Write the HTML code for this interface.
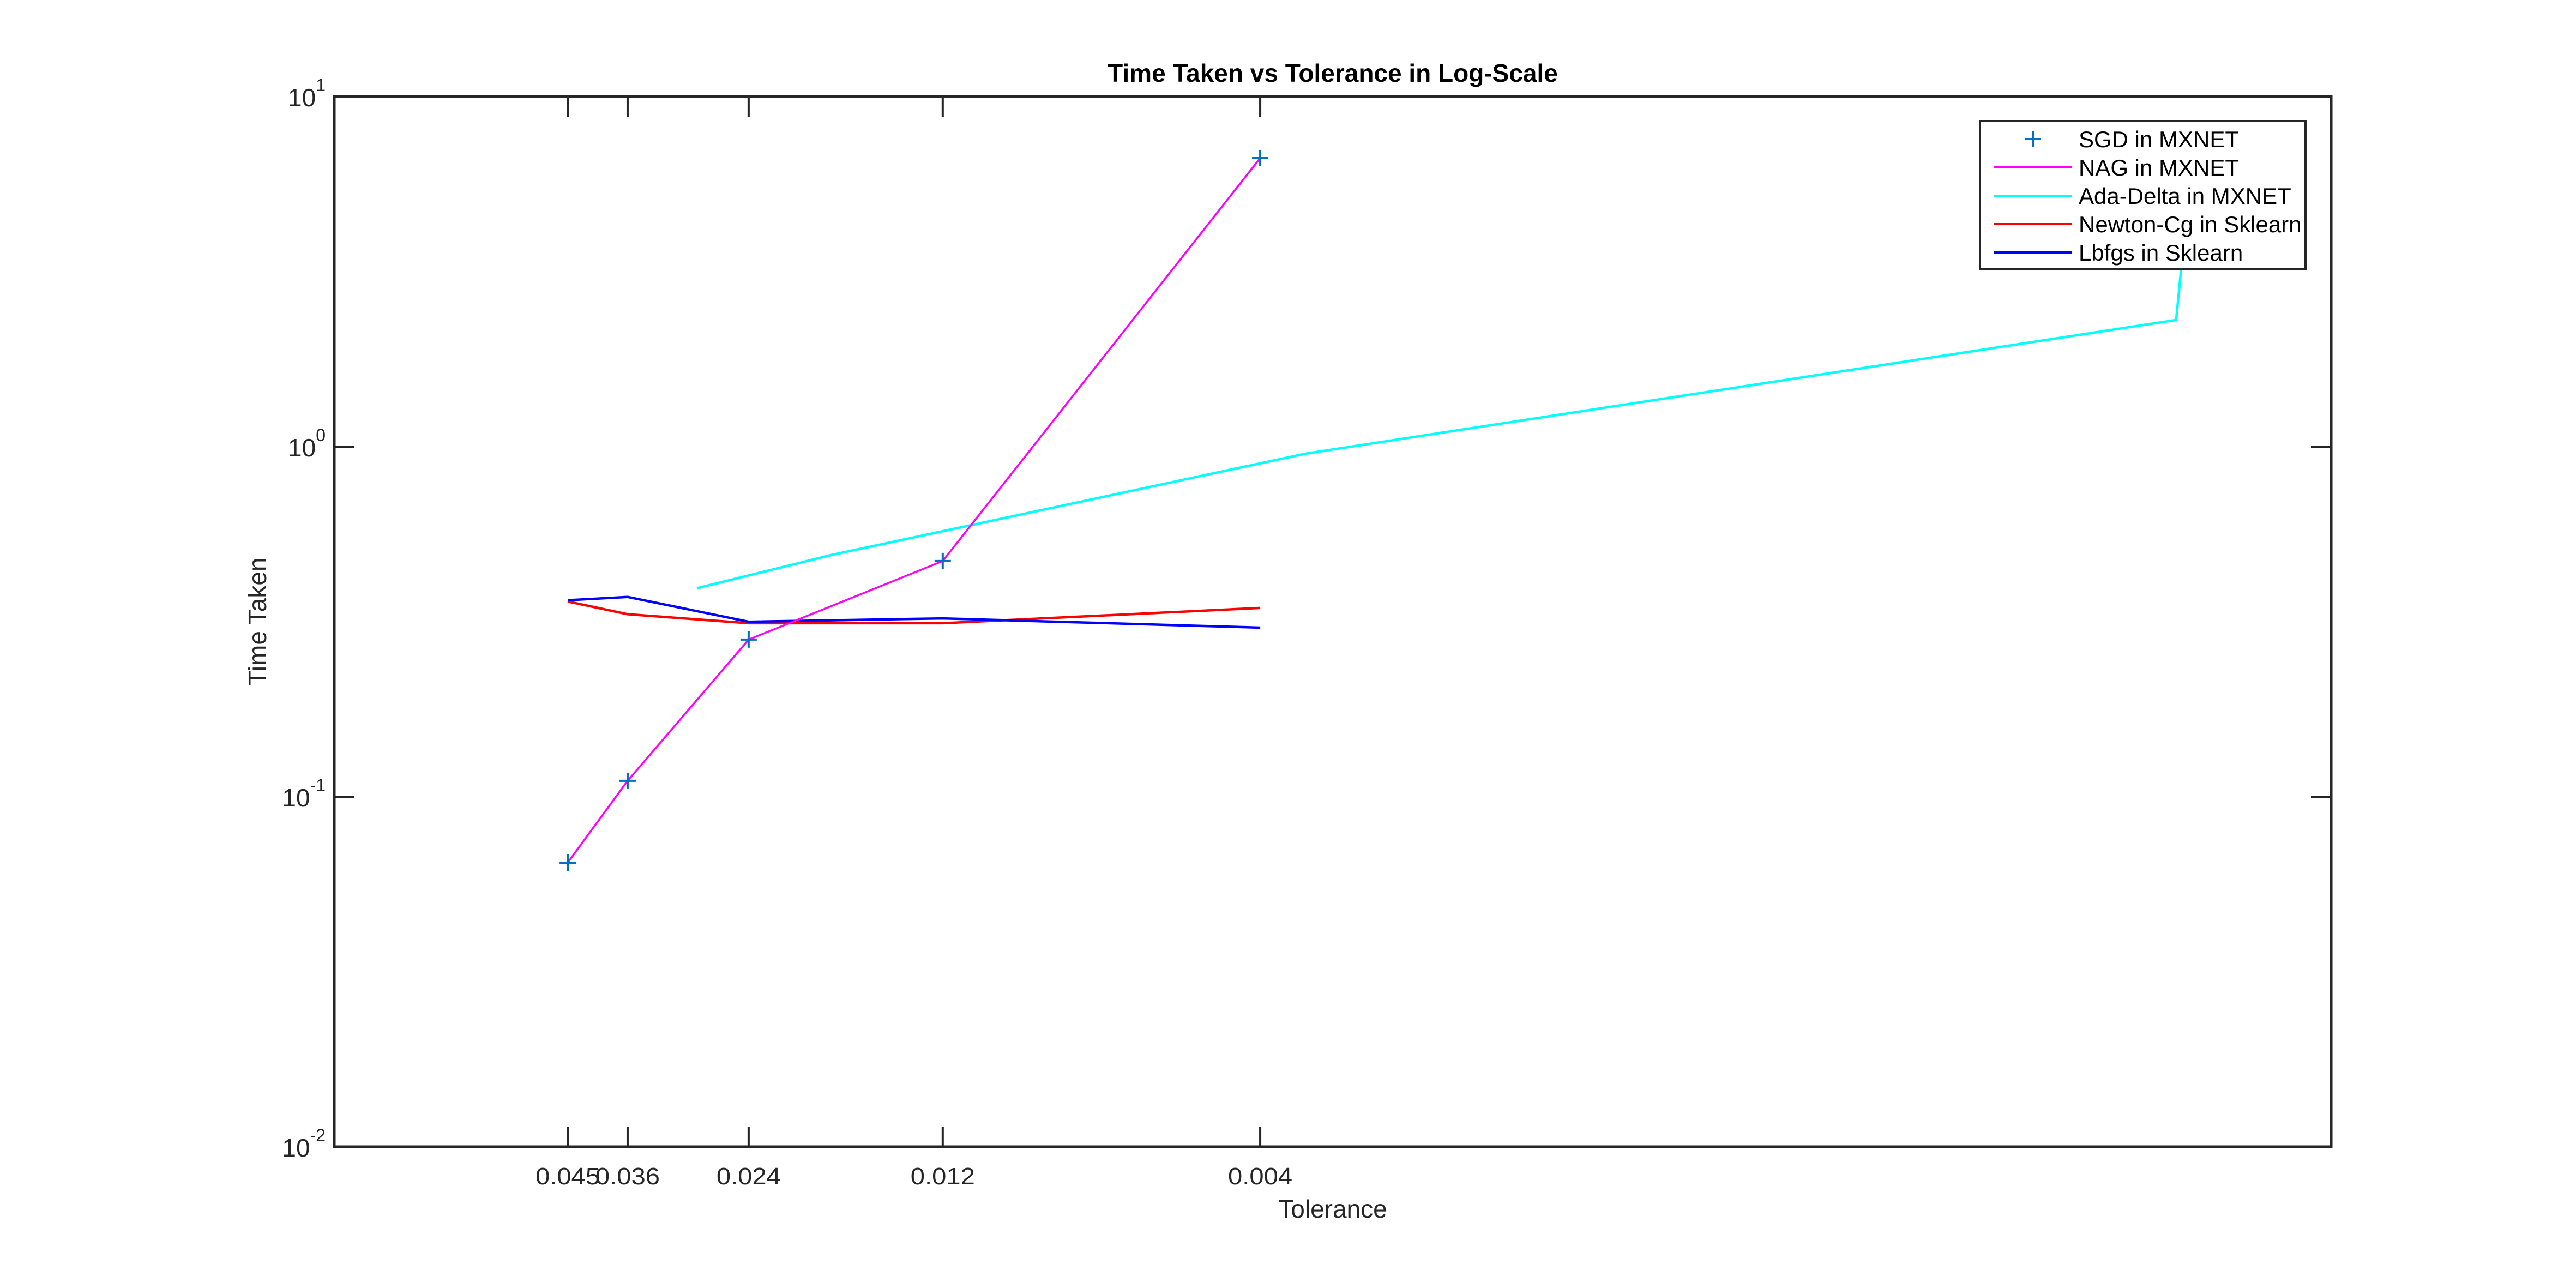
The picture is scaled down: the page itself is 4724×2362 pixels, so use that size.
<!DOCTYPE html>
<html><head><meta charset="utf-8"><style>
html,body{margin:0;padding:0;background:#fff;}
svg{display:block;font-family:"Liberation Sans",Arial,sans-serif;}
</style></head><body>
<svg id="chart" width="4724" height="2362" viewBox="0 0 4724 2362" xmlns="http://www.w3.org/2000/svg">
<rect width="4724" height="2362" fill="#fff"/>
<g id="plot"></g>
</svg>
<script>
// x axis in arbitrary position units (0..1000), tolerances shown as tick labels
const xTickPos = [116.9, 146.9, 207.5, 304.7, 463.7];
const xTickLabels = ["0.045", "0.036", "0.024", "0.012", "0.004"];
const yTickExp = [1, 0, -1, -2];
const sgdX = [116.9, 146.9, 207.5, 304.7, 463.7];
const sgdY = [0.0648, 0.111, 0.281, 0.471, 6.67];
const nagX = [116.9, 146.9, 207.5, 304.7, 463.7];
const nagY = [0.0648, 0.111, 0.281, 0.471, 6.67];
const adaX = [181.6, 248.8, 486.6, 922.4, 926.5];
const adaY = [0.394, 0.490, 0.955, 2.30, 4.0];
const newtonX = [116.9, 146.9, 207.5, 304.7, 463.7];
const newtonY = [0.361, 0.332, 0.313, 0.313, 0.346];
const lbfgsX = [116.9, 146.9, 207.5, 304.7, 463.7];
const lbfgsY = [0.364, 0.372, 0.316, 0.323, 0.304];

const L = 613, R = 4275, T = 177, B = 2103;
const NS = "http://www.w3.org/2000/svg";
const xs = u => L + u * (R - L) / 1000;
const ys = v => T + (1 - Math.log10(v)) * (B - T) / 3;
const plot = document.getElementById('plot');
function mk(tag, attrs, parent) {
  const e = document.createElementNS(NS, tag);
  for (const k in attrs) e.setAttribute(k, attrs[k]);
  (parent || plot).appendChild(e);
  return e;
}
const defs = mk('defs', {});
const cp = mk('clipPath', {id: 'clip'}, defs);
mk('rect', {x: L, y: T, width: R - L, height: B - T}, cp);

function line(xa, ya, color, w, name) {
  const pts = xa.map((x, i) => xs(x).toFixed(1) + ',' + ys(ya[i]).toFixed(1)).join(' ');
  const p = mk('polyline', {points: pts, fill: 'none', stroke: color, 'stroke-width': w, 'clip-path': 'url(#clip)', 'stroke-linejoin': 'round'});
  
  
}
line(adaX, adaY, '#00FFFF', 4.5, 'ada-delta-line');
line(newtonX, newtonY, '#FF0000', 4.5, 'newton-cg-line');
line(lbfgsX, lbfgsY, '#0000FF', 4.5, 'lbfgs-line');
line(nagX, nagY, '#FF00FF', 3.5, 'nag-line');
sgdX.forEach((x, i) => {
  const cx = xs(x), cy = ys(sgdY[i]);
  const g = mk('path', {d: `M${cx-15},${cy}H${cx+15}M${cx},${cy-15}V${cy+15}`, stroke: '#0072BD', 'stroke-width': 4, fill: 'none'});
  
  
});

const box = mk('rect', {x: L, y: T, width: R - L, height: B - T, fill: 'none', stroke: '#262626', 'stroke-width': 5});



xTickPos.forEach((u, i) => {
  const x = xs(u);
  const t = mk('path', {d: `M${x},${B}V${B-37}M${x},${T}V${T+37}`, stroke: '#262626', 'stroke-width': 4});
  
  
  const tx = mk('text', {x: x, y: 2172, 'font-size': 44, 'text-anchor': 'middle', fill: '#262626', textLength: 118, lengthAdjust: 'spacingAndGlyphs'});
  tx.textContent = xTickLabels[i];
  
  
});
yTickExp.forEach(e => {
  const y = ys(Math.pow(10, e));
  if (e !== 1 && e !== -2) {
    const t = mk('path', {d: `M${L},${y}H${L+37}M${R},${y}H${R-37}`, stroke: '#262626', 'stroke-width': 4});
    
    
  }
  const tx = mk('text', {x: 597, y: y + 18, 'font-size': 46, 'text-anchor': 'end', fill: '#262626'});
  
  
  const base = mk('tspan', {}, tx); base.textContent = '10';
  const sup = mk('tspan', {dy: -28, 'font-size': 32}, tx); sup.textContent = String(e);
});

const title = mk('text', {x: 2444, y: 150, 'font-size': 46, 'font-weight': 'bold', 'text-anchor': 'middle', fill: '#000'});
title.textContent = 'Time Taken vs Tolerance in Log-Scale';


const xl = mk('text', {x: 2444, y: 2233, 'font-size': 46, 'text-anchor': 'middle', fill: '#262626'});
xl.textContent = 'Tolerance';


const yl = mk('text', {x: 0, y: 0, 'font-size': 46, 'text-anchor': 'middle', fill: '#262626', transform: 'translate(488,1140) rotate(-90)'});
yl.textContent = 'Time Taken';



const lg = mk('g', {});


const lr = mk('rect', {x: 3631, y: 222, width: 597, height: 271, fill: '#fff', stroke: '#262626', 'stroke-width': 4}, lg);


const entries = [['SGD in MXNET', '#0072BD', true], ['NAG in MXNET', '#FF00FF'], ['Ada-Delta in MXNET', '#00FFFF'], ['Newton-Cg in Sklearn', '#FF0000'], ['Lbfgs in Sklearn', '#0000FF']];
entries.forEach((en, i) => {
  const cy = 255 + i * 52;
  const g = mk('g', {}, lg);
  
  
  if (en[2]) mk('path', {d: `M3713,${cy}H3743M3728,${cy-15}V${cy+15}`, stroke: en[1], 'stroke-width': 4}, g);
  else mk('line', {x1: 3657, x2: 3799, y1: cy, y2: cy, stroke: en[1], 'stroke-width': 4}, g);
  const t = mk('text', {x: 3812, y: cy + 15, 'font-size': 42, fill: '#000'}, g);
  t.textContent = en[0];
});
</script>
</body></html>
